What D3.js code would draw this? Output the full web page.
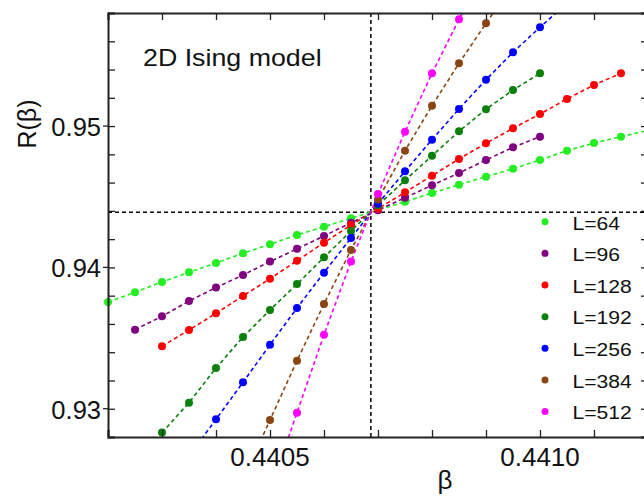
<!DOCTYPE html>
<html>
<head>
<meta charset="utf-8">
<script src="https://cdn.jsdelivr.net/npm/d3@7"></script>
<style>
  html, body { margin: 0; padding: 0; background: #fff; }
  svg { display: block; }
  text { font-family: "Liberation Sans", Arial, Helvetica, sans-serif; fill: #111; }
</style>
</head>
<body>
<svg id="chart" width="644" height="496"></svg>
<script>
// ---- data ----
const betaGrid = [0.44020, 0.44025, 0.44030, 0.44035, 0.44040, 0.44045, 0.44050, 0.44055,
  0.44060, 0.44065, 0.44070, 0.44075, 0.44080, 0.44085, 0.44090, 0.44095, 0.44100,
  0.44105, 0.44110, 0.44115, 0.44120];

const seriesLabels = ["L=64", "L=96", "L=128", "L=192", "L=256", "L=384", "L=512"];
const seriesColors = ["#22ee22", "#800080", "#ff0000", "#0a800a", "#0000ff", "#8b4513", "#ff00ff"];
// index into betaGrid where each series starts
const seriesStart = [0, 1, 2, 2, 3, 5, 6];

const R_L64 = [0.93755, 0.93824, 0.93897, 0.93965, 0.94031, 0.94100, 0.94163, 0.94229, 0.94288,
  0.94347, 0.94407, 0.94465, 0.94526, 0.94585, 0.94642, 0.94698, 0.94760, 0.94826, 0.94880,
  0.94925, 0.94970];
const R_L96 = [0.93559, 0.93654, 0.93762, 0.93857, 0.93946, 0.94041, 0.94132, 0.94222, 0.94316,
  0.94405, 0.94493, 0.94581, 0.94668, 0.94760, 0.94850, 0.94925];
const R_L128 = [0.93442, 0.93557, 0.93675, 0.93798, 0.93920, 0.94047, 0.94175, 0.94300, 0.94415,
  0.94531, 0.94649, 0.94767, 0.94878, 0.94984, 0.95085, 0.95192, 0.95291, 0.95373];
const R_L192 = [0.92831, 0.93043, 0.93288, 0.93507, 0.93699, 0.93882, 0.94071, 0.94258, 0.94440,
  0.94616, 0.94790, 0.94963, 0.95119, 0.95255, 0.95373];
const R_L256 = [0.92665, 0.92925, 0.93187, 0.93453, 0.93713, 0.93963, 0.94208, 0.94450, 0.94680,
  0.94904, 0.95121, 0.95328, 0.95522, 0.95699, 0.95869];
const R_L384 = [0.92500, 0.92920, 0.93340, 0.93741, 0.94123, 0.94480, 0.94826, 0.95144, 0.95444,
  0.95727, 0.96000];
const R_L512 = [0.92420, 0.92972, 0.93524, 0.94041, 0.94519, 0.94960, 0.95373, 0.95755, 0.96120];

const seriesValues = [R_L64, R_L96, R_L128, R_L192, R_L256, R_L384, R_L512];

const xTickLabels = [0.4405, 0.4410];
const yTickLabels = [0.93, 0.94, 0.95];
const betaCritical = 0.4406868;
const RCritical = 0.9439;

// ---- layout ----
const svg = d3.select("#chart");
const pL = 108, pR = 648, pT = 13, pB = 437;
const x = d3.scaleLinear().domain([0.4402, 0.4412]).range([pL, pR]);
const y = d3.scaleLinear().domain([0.928, 0.958]).range([pB, pT]);

svg.append("defs").append("clipPath").attr("id", "plotclip")
  .append("rect").attr("x", pL).attr("y", pT).attr("width", pR - pL).attr("height", pB - pT);

// crosshair
const cross = svg.append("g").attr("clip-path", "url(#plotclip)");
cross.append("line")
  .attr("x1", x(betaCritical)).attr("x2", x(betaCritical))
  .attr("y1", y.range()[1]).attr("y2", y.range()[0])
  .attr("stroke", "#000").attr("stroke-width", 1.5).attr("stroke-dasharray", "4,3");
cross.append("line")
  .attr("x1", x.range()[0]).attr("x2", x.range()[1])
  .attr("y1", y(RCritical)).attr("y2", y(RCritical))
  .attr("stroke", "#000").attr("stroke-width", 1.5).attr("stroke-dasharray", "4,3");

// series
const data = seriesValues.map((vals, i) => ({
  label: seriesLabels[i], color: seriesColors[i],
  pts: vals.map((v, j) => ({ b: betaGrid[seriesStart[i] + j], r: v }))
}));
const line = d3.line().x(d => x(d.b)).y(d => y(d.r));
const inDomain = d => d.b >= 0.4402 - 1e-9 && d.b <= 0.4412 + 1e-9 && d.r >= 0.928 && d.r <= 0.958;

const lines = svg.append("g").attr("clip-path", "url(#plotclip)");
data.forEach(s => {
  lines.append("path").datum(s.pts).attr("d", line)
    .attr("fill", "none").attr("stroke", s.color).attr("stroke-width", 1.6)
    .attr("stroke-dasharray", "4,3");
});
const marks = svg.append("g");
data.forEach(s => {
  marks.selectAll(null).data(s.pts.filter(inDomain)).enter().append("circle")
    .attr("cx", d => x(d.b)).attr("cy", d => y(d.r)).attr("r", 4)
    .attr("fill", s.color);
});

// axes
const axCol = "#222";
const xMinor = d3.range(0, 11).map(i => 0.4402 + i * 0.0001);
const yMinor = d3.range(0, 16).map(i => 0.928 + i * 0.002);

const gBottom = svg.append("g").attr("transform", `translate(0,${pB})`)
  .call(d3.axisBottom(x).tickValues(xMinor).tickSize(-7).tickFormat(""));
const gTop = svg.append("g").attr("transform", `translate(0,${pT})`)
  .call(d3.axisTop(x).tickValues(xMinor).tickSize(-7).tickFormat(""));
const gLeft = svg.append("g").attr("transform", `translate(${pL},0)`)
  .call(d3.axisLeft(y).tickValues(yMinor).tickSize(-7).tickFormat(""));
const gRight = svg.append("g").attr("transform", `translate(${pR},0)`)
  .call(d3.axisRight(y).tickValues(yMinor).tickSize(-7).tickFormat(""));
[gBottom, gTop, gLeft, gRight].forEach(g => {
  g.select(".domain").attr("stroke", axCol).attr("stroke-width", 2);
  g.selectAll(".tick line").attr("stroke", axCol).attr("stroke-width", 1.3);
});
// major y ticks stick out slightly
gLeft.selectAll(null).data(yTickLabels).enter().append("line")
  .attr("x1", -5).attr("x2", 0).attr("y1", d => y(d)).attr("y2", d => y(d))
  .attr("stroke", axCol).attr("stroke-width", 1.3);

// tick labels
svg.append("g").selectAll("text").data(xTickLabels).enter().append("text")
  .attr("x", d => x(d)).attr("y", pB + 29).attr("text-anchor", "middle")
  .attr("font-size", 26).text(d => d.toFixed(4));
svg.append("g").selectAll("text").data(yTickLabels).enter().append("text")
  .attr("x", 101).attr("y", d => y(d) + 10).attr("text-anchor", "end")
  .attr("font-size", 25.5).text(d => d.toFixed(2));

// axis titles
svg.append("text").attr("transform", "translate(36,124) rotate(-90)")
  .attr("text-anchor", "middle").attr("font-size", 25).text("R(β)");
svg.append("text").attr("x", 445).attr("y", 489).attr("text-anchor", "middle")
  .attr("font-size", 26).text("β");

// annotation
svg.append("text").attr("transform", "translate(143,66) scale(1.14,1)")
  .attr("font-size", 23.5).text("2D Ising model");

// legend
const leg = svg.append("g");
data.forEach((s, i) => {
  const yy = 221.7 + i * 31.65;
  leg.append("circle").attr("cx", 545).attr("cy", yy).attr("r", 3.5).attr("fill", s.color);
  leg.append("text").attr("transform", `translate(572.5,${yy + 7.8}) scale(1.14,1)`)
    .attr("font-size", 18.5).text(s.label);
});
</script>
</body>
</html>
